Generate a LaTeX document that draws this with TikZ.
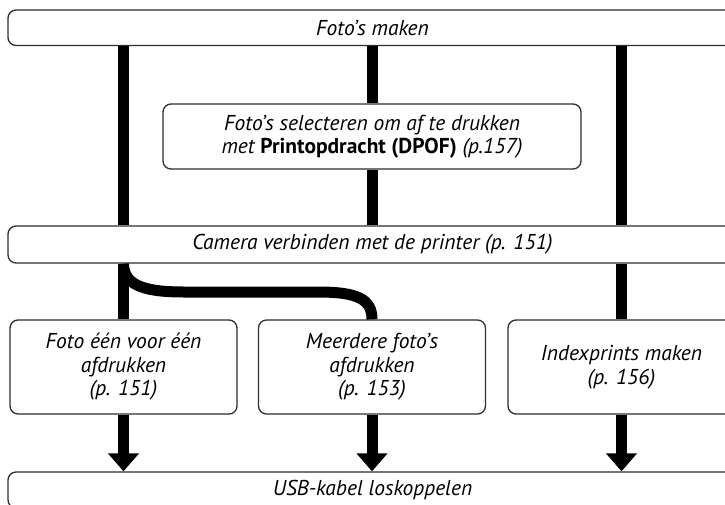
\documentclass[tikz,border=0pt]{standalone}
\usepackage{fontspec}
\setmainfont{PT Sans}
\usetikzlibrary{arrows.meta}
\definecolor{frame-grey}{HTML}{2E2E2E}

\begin{document}
\begin{tikzpicture}[x=1pt, y=-1pt,
    box/.style={draw=frame-grey, line width=1.3pt, fill=white, rounded corners=8pt,
      inner sep=0pt, align=center, font=\itshape\fontsize{21.5}{23.5}\selectfont},
    widebox/.style={box, minimum width=729pt, minimum height=36pt},
    choice/.style={box, minimum width=227pt, minimum height=94pt},
    flow/.style={line width=11pt, black},
    flowarrow/.style={flow, -{Triangle[width=30pt, length=18pt]}}]
  \useasboundingbox (0,0) rectangle (725,504);
  \clip (0,0) rectangle (725,504);

  \node[widebox, minimum height=35.5pt] (shoot) at (372.5,27.75) {Foto’s maken};
  \node[box, minimum width=418pt, minimum height=65pt] (select) at (372,136.5)
    {Foto’s selecteren om af te drukken\\ met {\upshape\bfseries Printopdracht (DPOF)} (p.157)};
  \node[widebox, minimum height=37pt] (connect) at (372.5,244.5)
    {Camera verbinden met de printer (p. 151)};
  \node[choice] (single) at (123.5,367) {Foto één voor één\\ afdrukken\\ (p. 151)};
  \node[choice] (multi) at (372,367) {Meerdere foto’s\\ afdrukken\\ (p. 153)};
  \node[choice] (index) at (621.5,367) {Indexprints maken\\ (p. 156)};
  \node[widebox] (unplug) at (372.5,490) {USB-kabel loskoppelen};

  \coordinate (bendA) at (185,292);
  \coordinate (bendB) at (318,292);

  \draw[flow] (shoot.south -| single) -- (connect.north -| single);
  \draw[flow] (connect.south -| single) -- (single.north);
  \draw[flow] (connect.south -| single) .. controls +(0,24) and +(-35,0) .. (bendA)
    -- (bendB) .. controls +(40,0) and +(0,-20) .. (multi.north);
  \draw[flow] (shoot.south -| select) -- (select.north);
  \draw[flow] (select.south) -- (connect.north -| select);
  \draw[flow] (shoot.south -| index) -- (connect.north -| index);
  \draw[flow] (connect.south -| index) -- (index.north);

  \draw[flowarrow] (single.south) -- (unplug.north -| single);
  \draw[flowarrow] (multi.south) -- (unplug.north -| multi);
  \draw[flowarrow] (index.south) -- (unplug.north -| index);
\end{tikzpicture}
\end{document}
